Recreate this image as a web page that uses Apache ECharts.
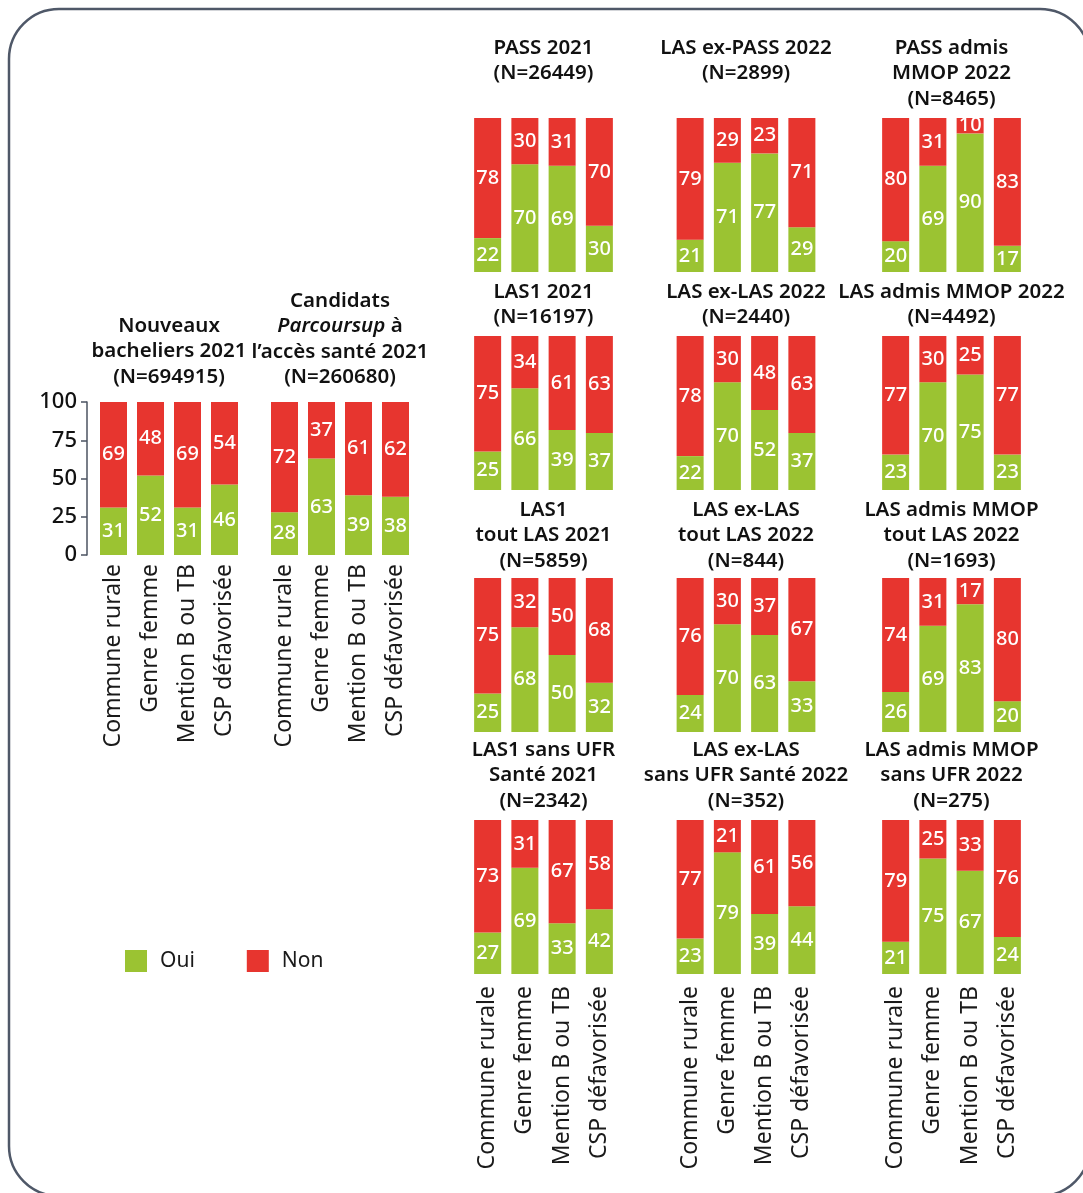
<!DOCTYPE html>
<html>
<head>
<meta charset="utf-8">
<script src="https://cdn.jsdelivr.net/npm/echarts@6/dist/echarts.min.js"></script>
<style>
  html, body { margin: 0; padding: 0; background: #fff; }
  #chart { width: 1083px; height: 1193px; }
</style>
</head>
<body>
<div id="chart"></div>
<script>
const categories = ['Commune rurale', 'Genre femme', 'Mention B ou TB', 'CSP défavorisée']

const panelTitles = [
  'Nouveaux\nbacheliers 2021\n(N=694915)',
  'Candidats\n{i|Parcoursup} à\nl’accès santé 2021\n(N=260680)',
  'PASS 2021\n(N=26449)',
  'LAS ex-PASS 2022\n(N=2899)',
  'PASS admis\nMMOP 2022\n(N=8465)',
  'LAS1 2021\n(N=16197)',
  'LAS ex-LAS 2022\n(N=2440)',
  'LAS admis MMOP 2022\n(N=4492)',
  'LAS1\ntout LAS 2021\n(N=5859)',
  'LAS ex-LAS\ntout LAS 2022\n(N=844)',
  'LAS admis MMOP\ntout LAS 2022\n(N=1693)',
  'LAS1 sans UFR\nSanté 2021\n(N=2342)',
  'LAS ex-LAS\nsans UFR Santé 2022\n(N=352)',
  'LAS admis MMOP\nsans UFR 2022\n(N=275)'
]

const ouiValues = [
  [31, 52, 31, 46],
  [28, 63, 39, 38],
  [22, 70, 69, 30],
  [21, 71, 77, 29],
  [20, 69, 90, 17],
  [25, 66, 39, 37],
  [22, 70, 52, 37],
  [23, 70, 75, 23],
  [25, 68, 50, 32],
  [24, 70, 63, 33],
  [26, 69, 83, 20],
  [27, 69, 33, 42],
  [23, 79, 39, 44],
  [21, 75, 67, 24]
]

const nonValues = [
  [69, 48, 69, 54],
  [72, 37, 61, 62],
  [78, 30, 31, 70],
  [79, 29, 23, 71],
  [80, 31, 10, 83],
  [75, 34, 61, 63],
  [78, 30, 48, 63],
  [77, 30, 25, 77],
  [75, 32, 50, 68],
  [76, 30, 37, 67],
  [74, 31, 17, 80],
  [73, 31, 67, 58],
  [77, 21, 61, 56],
  [79, 25, 33, 76]
]

const yTicks = [0, 25, 50, 75, 100]

const GREEN = '#9bc332'
const RED = '#e7352f'
const FONT = 'Noto Sans'

// panel boxes: 2 on the left, then 4 rows x 3 columns
const boxes = [
  { left: 95, top: 402, width: 148, height: 153, titleTop: 313 },
  { left: 266, top: 402, width: 148, height: 153, titleTop: 288 }
]
const colLefts = [469, 671.5, 877]
const rowTops = [118, 336, 578, 820]
const rowTitleTops = [35, 279, 497, 737]
rowTops.forEach((t, r) => {
  colLefts.forEach(l => {
    boxes.push({ left: l, top: t, width: 149, height: 154, titleTop: rowTitleTops[r] })
  })
})
const withLabels = [0, 1, 11, 12, 13]

const grid = [], xAxis = [], yAxis = [], series = [], title = []
boxes.forEach((b, i) => {
  grid.push({ left: b.left, top: b.top, width: b.width, height: b.height })
  xAxis.push({
    type: 'category',
    gridIndex: i,
    data: categories,
    axisLine: { show: false },
    axisTick: { show: false },
    axisLabel: {
      show: withLabels.includes(i),
      rotate: 90,
      margin: i < 2 ? 9 : 12,
      fontFamily: FONT,
      fontSize: 23,
      color: '#1a1a1a',
      interval: 0
    }
  })
  yAxis.push({
    type: 'value',
    gridIndex: i,
    min: 0,
    max: 100,
    interval: 25,
    show: i === 0,
    offset: 8,
    splitLine: { show: false },
    axisLine: { show: i === 0, lineStyle: { color: '#4b5361', width: 1.5 } },
    axisTick: { show: i === 0, length: 6, lineStyle: { color: '#4b5361', width: 1.5 } },
    axisLabel: {
      show: i === 0,
      margin: 10,
      fontFamily: FONT,
      fontSize: 22,
      fontWeight: 500,
      color: '#111',
      customValues: yTicks
    }
  })
  const lbl = {
    show: true,
    position: 'inside',
    color: '#fff',
    fontFamily: FONT,
    fontSize: 20,
    fontWeight: 500
  }
  series.push({
    name: 'Oui', type: 'bar', stack: 's' + i,
    xAxisIndex: i, yAxisIndex: i,
    barWidth: 27,
    itemStyle: { color: GREEN },
    label: lbl,
    data: ouiValues[i]
  })
  series.push({
    name: 'Non', type: 'bar', stack: 's' + i,
    xAxisIndex: i, yAxisIndex: i,
    barWidth: 27,
    itemStyle: { color: RED },
    label: lbl,
    data: nonValues[i]
  })
  title.push({
    text: panelTitles[i],
    left: b.left + b.width / 2,
    top: b.titleTop,
    textAlign: 'center',
    padding: 0,
    textStyle: {
      fontFamily: FONT,
      fontSize: 20.5,
      fontWeight: 600,
      color: '#111',
      lineHeight: 25.5,
      rich: {
        i: { fontFamily: FONT, fontSize: 20.5, fontWeight: 600, fontStyle: 'italic', color: '#111', lineHeight: 25.5 }
      }
    }
  })
})

const chart = echarts.init(document.getElementById('chart'))
chart.setOption({
  animation: false,
  backgroundColor: '#fff',
  title,
  grid,
  xAxis,
  yAxis,
  series,
  legend: {
    data: ['Oui', 'Non'],
    left: 125,
    top: 950,
    padding: 0,
    orient: 'horizontal',
    icon: 'rect',
    itemWidth: 22,
    itemHeight: 22,
    itemGap: 52,
    textStyle: { fontFamily: FONT, fontSize: 21, color: '#1a1a1a', padding: [0, 0, 0, 8] }
  },
  graphic: [{
    type: 'rect',
    shape: { x: 9, y: 9, width: 1081, height: 1187, r: 50 },
    style: { fill: 'none', stroke: '#4f5868', lineWidth: 2.5 },
    silent: true
  }]
})
</script>
</body>
</html>
